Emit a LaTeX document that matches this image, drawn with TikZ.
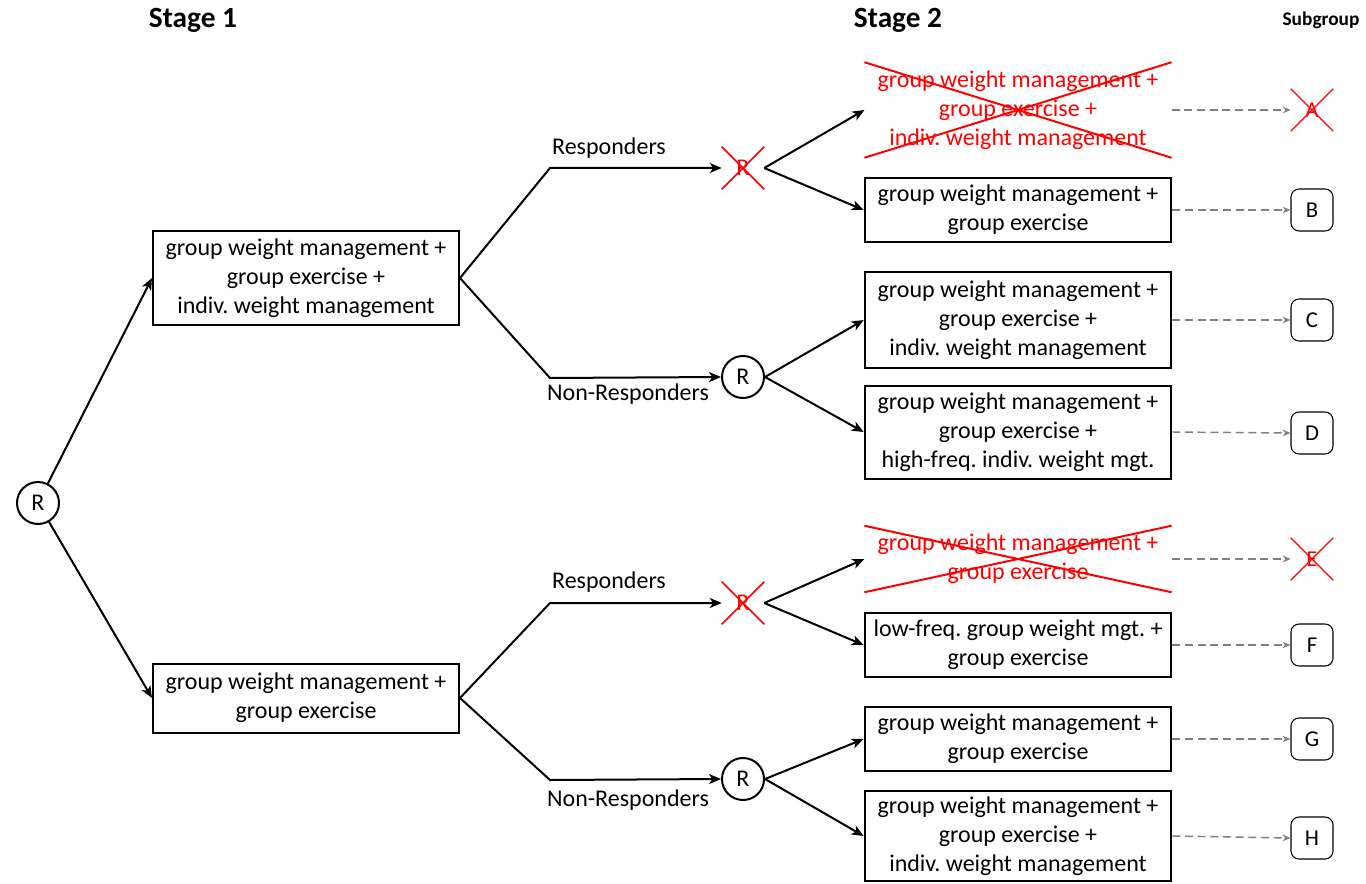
\documentclass[tikz,border=0pt]{standalone}
\usepackage{fontspec}
\setmainfont{Carlito}
\usetikzlibrary{arrows.meta}
\begin{document}
\begin{tikzpicture}[x=0.75pt,y=-0.75pt,
  every node/.style={font=\fontsize{18}{21.75}\selectfont, inner sep=2pt},
  tbox/.style={draw, line width=1.5pt, minimum width=230pt, align=center},
  xbox/.style={text=red, minimum width=230pt, align=center},
  rnd/.style={draw, circle, line width=1.5pt, minimum size=31.5pt, inner sep=0pt},
  xrnd/.style={rectangle, text=red, minimum size=31.5pt, inner sep=0pt},
  sub/.style={draw, rounded corners=6pt, line width=0.8pt, minimum size=31.5pt, inner sep=0pt, font=\fontsize{17}{20}\selectfont},
  xsub/.style={text=red, minimum size=31.5pt, inner sep=0pt, font=\fontsize{17}{20}\selectfont},
  arr/.style={line width=1.5pt, -{Stealth[length=9pt,width=7.5pt,inset=2.5pt]}},
  darr/.style={gray, line width=1.1pt, dash pattern=on 6pt off 3.5pt, -{Stealth[length=6pt,width=5pt,inset=2pt]}},
  cross/.style={red, line width=1.5pt},
  head/.style={font=\fontsize{22}{26}\selectfont\bfseries},
  lab/.style={font=\fontsize{18}{21.75}\selectfont}
]
\useasboundingbox (0,0) rectangle (1366,884);

% headers
\node[head] (h1) at (193,20) {Stage 1};
\node[head] (h2) at (898,20) {Stage 2};
\node[head, font=\fontsize{14.5}{17}\selectfont\bfseries] (h3) at (1321,20) {Subgroup};

% root
\node[rnd] (R0) at (38,503) {R};

% stage 1
\node[tbox, minimum width=229.5pt, minimum height=70.5pt] (S1) at (306,278) {group weight management +\\group exercise +\\indiv.\ weight management};
\node[tbox, minimum width=229.5pt, minimum height=51.75pt] (S2) at (306,698) {group weight management +\\group exercise};

\draw[arr] (R0) -- (S1.west);
\draw[arr] (R0) -- (S2.west);

% randomisation nodes
\node[xrnd] (RA) at (743,168) {R};
\draw[red, line width=1.1pt] (RA.north west) -- (RA.south east) (RA.north east) -- (RA.south west);
\node[rnd] (RB) at (743,377) {R};
\node[xrnd] (RC) at (743,603) {R};
\draw[red, line width=1.1pt] (RC.north west) -- (RC.south east) (RC.north east) -- (RC.south west);
\node[rnd] (RD) at (743,779) {R};

\coordinate (k1) at (550,168);
\coordinate (k2) at (550,378);
\coordinate (k3) at (550,603);
\coordinate (k4) at (550,780);

\draw[arr] (S1.east) -- (k1) -- (RA.west);
\draw[arr] (S1.east) -- (k2) -- (RB.west);
\draw[arr] (S2.east) -- (k3) -- (RC.west);
\draw[arr] (S2.east) -- (k4) -- (RD.west);

\node[lab] (l1) at (609,148) {Responders};
\node[lab] (l2) at (628,394) {Non-Responders};
\node[lab] (l3) at (609,582) {Responders};
\node[lab] (l4) at (628,800) {Non-Responders};

% stage 2
\node[xbox, minimum height=71.25pt] (A) at (1018,110) {group weight management +\\group exercise +\\indiv.\ weight management};
\draw[cross] (A.north west) -- (A.south east) (A.south west) -- (A.north east);
\node[tbox, minimum height=48pt] (B) at (1018,210) {group weight management +\\group exercise};
\node[tbox, minimum height=72pt] (C) at (1018,320) {group weight management +\\group exercise +\\indiv.\ weight management};
\node[tbox, minimum height=69.75pt] (D) at (1018,432) {group weight management +\\group exercise +\\high-freq.\ indiv.\ weight mgt.};
\node[xbox, minimum height=49.5pt] (E) at (1018,559) {group weight management +\\group exercise};
\draw[cross] (E.north west) -- (E.south east) (E.south west) -- (E.north east);
\node[tbox, minimum height=48pt] (F) at (1018,645) {low-freq.\ group weight mgt.\ +\\group exercise};
\node[tbox, minimum height=48pt] (G) at (1018,739) {group weight management +\\group exercise};
\node[tbox, minimum height=67.5pt] (H) at (1018,836) {group weight management +\\group exercise +\\indiv.\ weight management};

\draw[arr] (RA.east) -- (A.west);
\draw[arr] (RA.east) -- (B.west);
\draw[arr] (RB.east) -- (C.west);
\draw[arr] (RB.east) -- (D.west);
\draw[arr] (RC.east) -- (E.west);
\draw[arr] (RC.east) -- (F.west);
\draw[arr] (RD.east) -- (G.west);
\draw[arr] (RD.east) -- (H.west);

% subgroups
\node[xsub] (gA) at (1312,110) {A};
\draw[red, line width=1pt] (gA.north west) -- (gA.south east) (gA.north east) -- (gA.south west);
\node[sub] (gB) at (1312,210) {B};
\node[sub] (gC) at (1312,320) {C};
\node[sub] (gD) at (1312,433) {D};
\node[xsub] (gE) at (1312,559) {E};
\draw[red, line width=1pt] (gE.north west) -- (gE.south east) (gE.north east) -- (gE.south west);
\node[sub] (gF) at (1312,645) {F};
\node[sub] (gG) at (1312,739) {G};
\node[sub] (gH) at (1312,838) {H};

\draw[darr] (A.east) -- (gA.west);
\draw[darr] (B.east) -- (gB.west);
\draw[darr] (C.east) -- (gC.west);
\draw[darr] (D.east) -- (gD.west);
\draw[darr] (E.east) -- (gE.west);
\draw[darr] (F.east) -- (gF.west);
\draw[darr] (G.east) -- (gG.west);
\draw[darr] (H.east) -- (gH.west);
\end{tikzpicture}
\end{document}
